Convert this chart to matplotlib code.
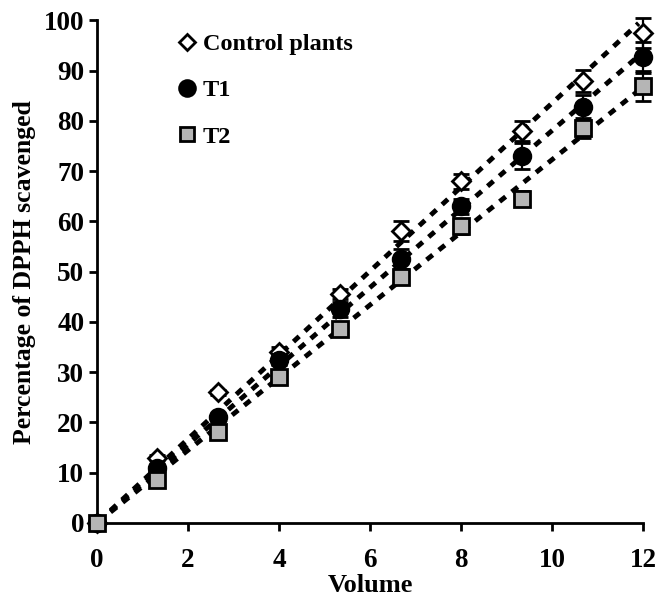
import numpy as np
import matplotlib.pyplot as plt

plt.rcParams.update({
    "font.family": "Liberation Serif",
    "font.weight": "bold",
    "axes.labelweight": "bold",
})

# Data
volume = [0, 1.33, 2.67, 4, 5.33, 6.67, 8, 9.33, 10.67, 12]
control = [0, 13, 26, 34, 45.5, 58, 68, 78, 88, 97.5]
t1 = [0, 11, 21, 32.5, 42.5, 52.5, 63, 73, 82.7, 92.6]
t2 = [0, 8.5, 18, 29, 38.5, 49, 59, 64.5, 78.5, 87]
control_err = [0, 0.5, 0.5, 1, 1, 2, 1.5, 2, 2.2, 3]
t1_err = [0, 0.5, 0.5, 1, 1.5, 2, 1.5, 2.5, 2.5, 3]
t2_err = [0, 0.5, 0.5, 1, 1, 1.5, 1.5, 1.5, 2, 3]

fig = plt.figure(figsize=(6.59, 5.97), dpi=100)
ax = fig.add_axes([0.147, 0.124, 0.829, 0.842])

series = [
    ("Control plants", control, control_err, "D", "white", 9),
    ("T1", t1, t1_err, "o", "black", 12),
    ("T2", t2, t2_err, "s", "#b5b5b5", 11),
]

x = np.array(volume)
xfit = np.linspace(0.3, 11.9, 50)
for label, y, err, marker, fc, ms in series:
    # linear trend line through the origin
    k = np.dot(x, y) / np.dot(x, x)
    ax.plot(xfit, k * xfit, color="black", linewidth=3.5,
            linestyle=(0, (1.6, 1.6)), zorder=1)
for label, y, err, marker, fc, ms in series:
    ax.errorbar(volume, y, yerr=err, fmt=marker, color="black", mfc=fc,
                mec="black", mew=2, ms=ms, capsize=6, elinewidth=1.6,
                capthick=1.6, label=label, clip_on=False, zorder=3)

ax.set_xlim(0, 12)
ax.set_ylim(0, 100)
ax.set_xticks(range(0, 13, 2))
ax.set_yticks(range(0, 101, 10))
ax.tick_params(labelsize=19.5, width=2, length=6, direction="out")
ax.tick_params(axis="x", pad=12)
ax.tick_params(axis="y", pad=3)
ax.set_xlabel("Volume", fontsize=19, labelpad=1)
ax.set_ylabel("Percentage of DPPH scavenged", fontsize=18.5, labelpad=6)

for spine in ["top", "right"]:
    ax.spines[spine].set_visible(False)
for spine in ["left", "bottom"]:
    ax.spines[spine].set_linewidth(2)

handles, labels = ax.get_legend_handles_labels()
handles = [h[0] for h in handles]
ax.legend(handles, labels, loc="upper left", bbox_to_anchor=(0.1, 1.018),
          frameon=False, fontsize=17.5, labelspacing=1.0, handletextpad=0.1,
          handlelength=1.1, markerscale=0.95)

fig.savefig("out.png", dpi=100)
